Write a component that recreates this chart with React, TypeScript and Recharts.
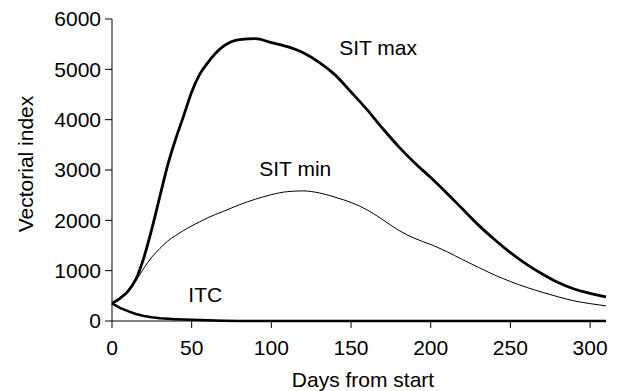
import {
  LineChart,
  XAxis,
  YAxis,
  Line,
  ReferenceDot,
} from "recharts";

// days from start (x) and vectorial index per scenario
const days = [
  0, 5, 10, 15, 20, 25, 30, 35, 40, 45, 50, 55, 60, 70, 80, 90, 100, 110, 120,
  130, 140, 150, 160, 170, 180, 190, 200, 210, 220, 230, 240, 250, 260, 270,
  280, 290, 300, 310,
];
const sitMax = [
  350, 450, 590, 830, 1260, 1830, 2470, 3100, 3620, 4080, 4550, 4900, 5130,
  5460, 5590, 5610, 5530, 5450, 5330, 5140, 4890, 4550, 4200, 3820, 3460, 3140,
  2850, 2545, 2225, 1905, 1620, 1360, 1130, 935, 765, 635, 550, 480,
];
const sitMin = [
  350, 450, 590, 800, 1050, 1270, 1440, 1590, 1700, 1800, 1890, 1970, 2050,
  2180, 2310, 2420, 2510, 2570, 2585, 2545, 2460, 2355, 2210, 2010, 1800, 1640,
  1520, 1380, 1220, 1065, 915, 785, 670, 570, 480, 400, 345, 300,
];
const itc = [
  350, 260, 195, 140, 100, 75, 55, 45, 37, 30, 25, 20, 15, 5, 0, 0, 0, 0, 0, 0,
  0, 0, 0, 0, 0, 0, 0, 0, 0, 0, 0, 0, 0, 0, 0, 0, 0, 0,
];
const xTicks = [0, 50, 100, 150, 200, 250, 300];
const yTicks = [0, 1000, 2000, 3000, 4000, 5000, 6000];

// curve labels placed in data coordinates
const curveLabels = [
  { text: "SIT max", day: 167, value: 5437 },
  { text: "SIT min", day: 115, value: 3022 },
  { text: "ITC", day: 58.5, value: 517 },
];

const FONT = "'Liberation Sans', Arial, sans-serif";

const App = () => {
  const items = days.map((d, i) => ({
    day: d,
    sitMax: sitMax[i],
    sitMin: sitMin[i],
    itc: itc[i],
  }));

  return (
    <div style={{ position: "absolute", left: 0, top: 0, background: "#fff" }}>
      <LineChart
        width={618}
        height={391}
        data={items}
        margin={{ top: 19, right: 12, left: 12, bottom: 0 }}
        style={{ fontFamily: FONT }}
      >
        <XAxis
          dataKey="day"
          type="number"
          domain={[0, 310]}
          ticks={xTicks}
          height={70}
          tickSize={7}
          tickMargin={12}
          stroke="#000"
          tick={{ fill: "#000", fontSize: 21 }}
          label={{
            value: "Days from start",
            position: "insideBottom",
            offset: 4,
            dx: 4,
            fill: "#000",
            fontSize: 21,
          }}
        />
        <YAxis
          type="number"
          domain={[0, 6000]}
          ticks={yTicks}
          width={100}
          tickSize={7}
          tickMargin={4}
          stroke="#000"
          tick={{ fill: "#000", fontSize: 21 }}
          label={{
            value: "Vectorial index",
            angle: -90,
            position: "center",
            dx: -36,
            dy: -6,
            fill: "#000",
            fontSize: 21,
          }}
        />
        <Line
          type="linear"
          dataKey="itc"
          stroke="#000"
          strokeWidth={2.5}
          dot={false}
          isAnimationActive={false}
        />
        <Line
          type="monotone"
          dataKey="sitMin"
          stroke="#000"
          strokeWidth={1}
          dot={false}
          isAnimationActive={false}
        />
        <Line
          type="monotone"
          dataKey="sitMax"
          stroke="#000"
          strokeWidth={2.8}
          dot={false}
          isAnimationActive={false}
        />
        {curveLabels.map((l) => (
          <ReferenceDot
            key={l.text}
            x={l.day}
            y={l.value}
            r={0}
            fill="none"
            stroke="none"
            label={{
              value: l.text,
              position: "center",
              fill: "#000",
              fontSize: 21,
            }}
          />
        ))}
      </LineChart>
    </div>
  );
};

export default App;
